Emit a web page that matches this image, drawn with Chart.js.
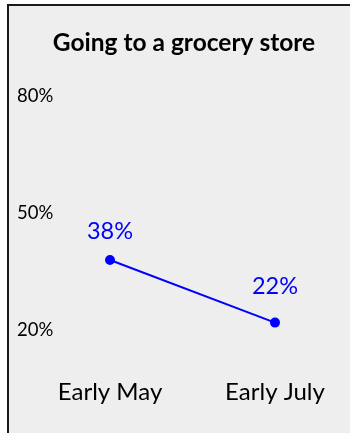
<!DOCTYPE html>
<html>
<head>
<meta charset="utf-8">
<script src="https://cdn.jsdelivr.net/npm/chart.js@4"></script>
<style>
  html, body { margin: 0; padding: 0; background: #ffffff; }
  #wrap { width: 350px; height: 433px; position: relative; }
</style>
</head>
<body>
<div id="wrap"><canvas id="c" width="350" height="433"></canvas></div>
<script>
// Share of people going to a grocery store, by survey period
const periods = ['Early May', 'Early July'];
const shares = [38, 22];
const yTicks = [20, 50, 80];
const chartTitle = 'Going to a grocery store';

const FONT = 'Lato, "Open Sans", sans-serif';
const BLUE = '#0000ff';

// Light grey panel with a dark frame on its top and left edges, plus the heading
const panel = {
  id: 'panel',
  beforeDraw(chart) {
    const ctx = chart.ctx;
    ctx.save();
    ctx.fillStyle = '#ffffff';
    ctx.fillRect(0, 0, chart.width, chart.height);
    ctx.fillStyle = '#eeeeee';
    ctx.fillRect(8, 4, chart.width - 8, chart.height - 4);
    ctx.strokeStyle = '#1a1a1a';
    ctx.lineWidth = 2;
    ctx.beginPath();
    ctx.moveTo(8, chart.height);
    ctx.lineTo(8, 5);
    ctx.lineTo(chart.width, 5);
    ctx.stroke();

    ctx.fillStyle = '#000000';
    ctx.font = 'bold 24.5px ' + FONT;
    ctx.textAlign = 'center';
    ctx.textBaseline = 'middle';
    ctx.fillText(chartTitle, 184, 43);
    ctx.restore();
  }
};

// Value labels above each point
const valueLabels = {
  id: 'valueLabels',
  afterDatasetsDraw(chart) {
    const ctx = chart.ctx;
    const meta = chart.getDatasetMeta(0);
    const lift = [29, 36];
    ctx.save();
    ctx.fillStyle = BLUE;
    ctx.font = '23.5px ' + FONT;
    ctx.textAlign = 'center';
    ctx.textBaseline = 'middle';
    meta.data.forEach((pt, i) => {
      ctx.fillText(shares[i] + '%', pt.x, pt.y - lift[i]);
    });
    ctx.restore();
  }
};

new Chart(document.getElementById('c'), {
  type: 'line',
  data: {
    labels: periods,
    datasets: [{
      data: shares,
      borderColor: BLUE,
      backgroundColor: BLUE,
      borderWidth: 2,
      pointRadius: 4,
      pointHoverRadius: 4,
      tension: 0
    }]
  },
  options: {
    responsive: false,
    animation: false,
    devicePixelRatio: 1,
    layout: { padding: { left: 17, right: 75, top: 76, bottom: 0 } },
    plugins: {
      legend: { display: false },
      tooltip: { enabled: false },
      title: { display: false }
    },
    scales: {
      x: {
        offset: false,
        grid: { display: false, drawTicks: false },
        border: { display: false },
        afterFit(scale) {
          scale.height = 83;
          scale.paddingLeft = 0;
          scale.paddingRight = 0;
        },
        ticks: {
          color: '#000000',
          font: { family: FONT, size: 24 },
          padding: 28,
          maxRotation: 0
        }
      },
      y: {
        min: 15,
        max: 85,
        grid: { display: false, drawTicks: false },
        border: { display: false },
        afterBuildTicks(scale) {
          scale.ticks = yTicks.map(v => ({ value: v }));
        },
        afterFit(scale) { scale.width = 93; },
        ticks: {
          color: '#000000',
          crossAlign: 'far',
          padding: 0,
          font: { family: FONT, size: 18.5 },
          callback: v => v + '%'
        }
      }
    }
  },
  plugins: [panel, valueLabels]
});
</script>
</body>
</html>
